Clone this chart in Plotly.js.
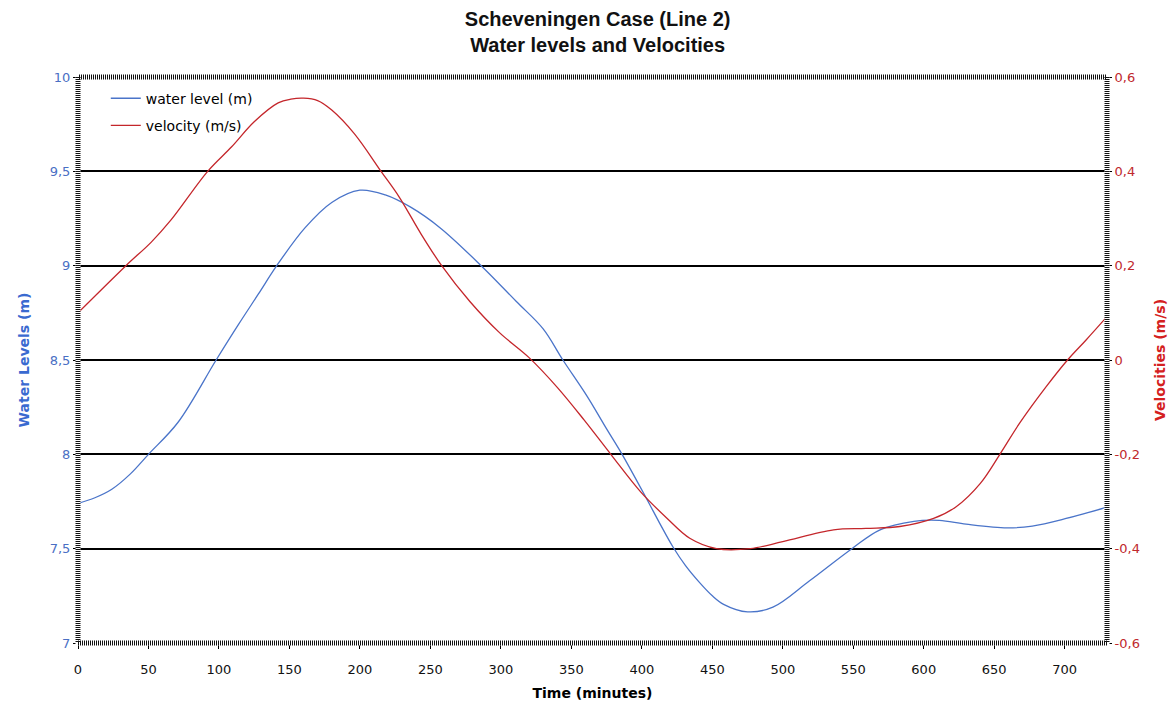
<!DOCTYPE html>
<html>
<head>
<meta charset="utf-8">
<script src="https://cdn.plot.ly/plotly-3.0.1.min.js"></script>
<style>html,body{margin:0;padding:0;background:#fff;}#chart{width:1173px;height:710px;}</style>
</head>
<body>
<div id="chart"></div>
<script>
// Water level series (time in minutes, level in m)
var levelTime = [0, 12, 24, 37, 50, 71, 98, 114, 128, 141, 161, 180, 200, 218, 236, 257, 286, 311, 330, 344, 361, 375, 386, 403, 413, 422, 431, 441, 450, 458, 475, 493, 519, 549, 569, 593, 611, 630, 659, 677, 701, 730];
var waterLevel = [7.74, 7.77, 7.815, 7.895, 8.00, 8.17, 8.50, 8.69, 8.85, 9.00, 9.20, 9.335, 9.40, 9.375, 9.31, 9.20, 9.00, 8.81, 8.665, 8.50, 8.31, 8.135, 8.00, 7.77, 7.63, 7.51, 7.41, 7.32, 7.25, 7.205, 7.165, 7.19, 7.33, 7.50, 7.60, 7.645, 7.65, 7.63, 7.61, 7.62, 7.66, 7.72];

// Velocity series (time in minutes, velocity in m/s)
var velTime = [0, 34, 52, 66, 92, 109, 125, 142, 151, 160, 170, 180, 196, 215, 228, 243, 258, 278, 299, 320, 340, 359, 378, 399, 418, 434, 453, 477, 500, 536, 559, 583, 607, 623, 640, 654, 668, 687, 702, 715, 730];
var velocity = [0.10, 0.20, 0.25, 0.297, 0.40, 0.452, 0.505, 0.545, 0.553, 0.555, 0.55, 0.53, 0.48, 0.40, 0.345, 0.269, 0.20, 0.124, 0.058, 0.005, -0.058, -0.127, -0.20, -0.279, -0.336, -0.378, -0.40, -0.40, -0.385, -0.36, -0.357, -0.353, -0.336, -0.311, -0.262, -0.20, -0.134, -0.056, 0.0, 0.042, 0.092];

// Tick labels
var levelTicks = [7, 7.5, 8, 8.5, 9, 9.5, 10];
var levelTickText = ["7", "7,5", "8", "8,5", "9", "9,5", "10"];
var velTicks = [-0.6, -0.4, -0.2, 0, 0.2, 0.4, 0.6];
var velTickText = ["-0,6", "-0,4", "-0,2", "0", "0,2", "0,4", "0,6"];
var timeTicks = [0, 50, 100, 150, 200, 250, 300, 350, 400, 450, 500, 550, 600, 650, 700];

var blue = '#4a74c9';
var red = '#c4262b';
var tickBlue = '#4a6fc4';
var tickRed = '#c0282d';

var traces = [
  {x: levelTime, y: waterLevel, type: 'scatter', mode: 'lines', name: 'water level (m)',
   line: {color: blue, width: 1.3, shape: 'spline', smoothing: 1.0}, yaxis: 'y', legend: 'legend', showlegend: true},
  {x: velTime, y: velocity, type: 'scatter', mode: 'lines', name: 'velocity (m/s)',
   line: {color: red, width: 1.3, shape: 'spline', smoothing: 1.0}, yaxis: 'y2', legend: 'legend2', showlegend: true}
];

var layout = {
  width: 1173, height: 710,
  margin: {l: 78, r: 66, t: 77, b: 67},
  paper_bgcolor: '#fff', plot_bgcolor: '#fff',
  separators: ',.',
  showlegend: true,
  font: {family: 'DejaVu Sans, sans-serif', size: 12, color: '#000'},
  title: {
    text: '<b>Scheveningen Case (Line 2)</b><br><b>Water levels and Velocities</b>',
    font: {family: 'Liberation Sans, Arial, sans-serif', size: 20, color: '#111'},
    x: 0.505, xanchor: 'center', xref: 'paper',
    y: 0.963, yanchor: 'top', yref: 'container'
  },
  xaxis: {
    range: [0, 730], tickvals: timeTicks, showgrid: false, zeroline: false,
    ticks: 'outside', ticklen: 5, tickcolor: '#000', showline: false,
    ticklabelstandoff: 9,
    tickfont: {family: 'DejaVu Sans, sans-serif', size: 13, color: '#111'},
    title: {text: '<b>Time (minutes)</b>', font: {family: 'DejaVu Sans, sans-serif', size: 14, color: '#000'}, standoff: 12}
  },
  yaxis: {
    range: [7, 10], tickvals: levelTicks, ticktext: levelTickText,
    showgrid: true, gridcolor: '#000', gridwidth: 2, zeroline: false,
    ticks: 'outside', ticklen: 4, tickcolor: '#000',
    tickfont: {family: 'DejaVu Sans, sans-serif', size: 13, color: tickBlue},
    title: {text: '<b>Water Levels (m)</b>', font: {family: 'DejaVu Sans, sans-serif', size: 14, color: '#3a6ad0'}, standoff: 16}
  },
  yaxis2: {
    range: [-0.6, 0.6], tickvals: velTicks, ticktext: velTickText,
    overlaying: 'y', side: 'right', showgrid: false, zeroline: false,
    ticks: 'outside', ticklen: 4, tickcolor: '#000',
    tickfont: {family: 'DejaVu Sans, sans-serif', size: 13, color: tickRed},
    title: {text: '<b>Velocities (m/s)</b>', font: {family: 'DejaVu Sans, sans-serif', size: 14, color: '#d42020'}, standoff: 16}
  },
  legend: {
    x: 0.027, xanchor: 'left', y: 0.99, yanchor: 'top',
    bgcolor: 'rgba(0,0,0,0)', borderwidth: 0,
    font: {family: 'DejaVu Sans, sans-serif', size: 14, color: '#000'}
  },
  legend2: {
    x: 0.027, xanchor: 'left', y: 0.942, yanchor: 'top',
    bgcolor: 'rgba(0,0,0,0)', borderwidth: 0,
    font: {family: 'DejaVu Sans, sans-serif', size: 14, color: '#000'}
  },
  shapes: [
    {type: 'rect', xref: 'paper', yref: 'paper', x0: 0, x1: 1, y0: 0, y1: 1,
     line: {color: '#fff', width: 5}, fillcolor: 'rgba(0,0,0,0)', layer: 'above'},
    {type: 'rect', xref: 'paper', yref: 'paper', x0: 0, x1: 1, y0: 0, y1: 1,
     line: {color: '#111', width: 5, dash: '1px,1px'}, fillcolor: 'rgba(0,0,0,0)', layer: 'above'}
  ]
};

Plotly.newPlot('chart', traces, layout, {displayModeBar: false, staticPlot: true});
</script>
</body>
</html>
